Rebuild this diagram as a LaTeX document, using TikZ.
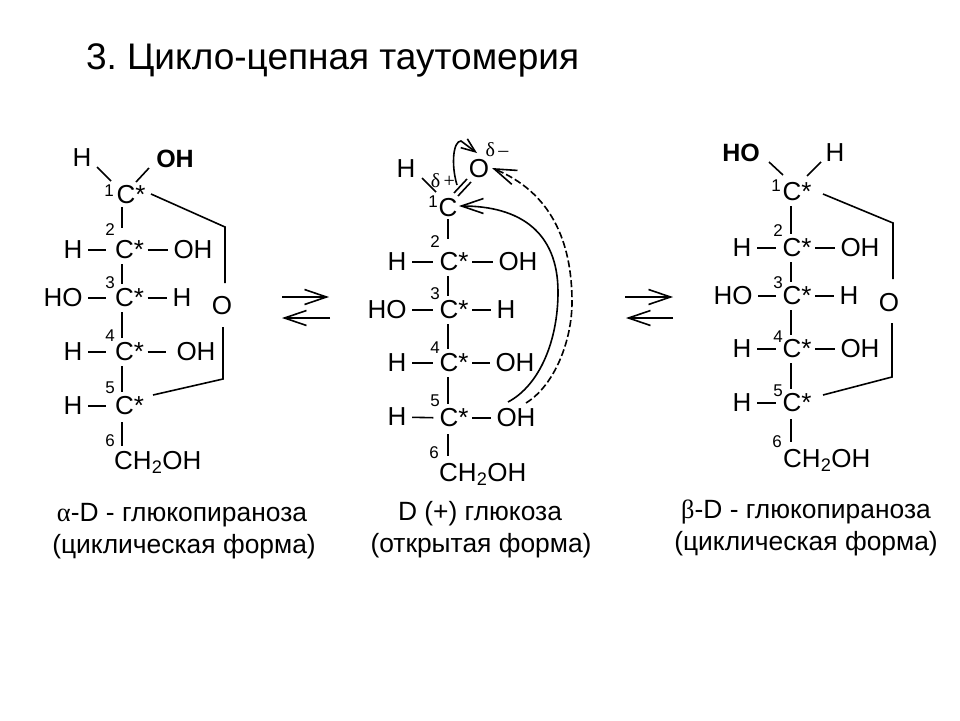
\documentclass[tikz,border=0pt]{standalone}
\usepackage{fontspec}
\setmainfont{Liberation Sans}
\newfontfamily\greekfont{Liberation Serif}
\usetikzlibrary{arrows.meta}
\frenchspacing
\newcommand{\cstar}[1][2pt]{\kern#1 C\rlap{*}}
\tikzset{
	atom/.style={font=\fontsize{26}{26}\selectfont, inner sep=0pt},
	boldatom/.style={atom, font=\fontsize{25}{25}\selectfont\bfseries},
	num/.style={font=\fontsize{17}{17}\selectfont, inner sep=0pt},
	delta/.style={font=\fontsize{20}{20}\selectfont\greekfont, inner sep=0pt},
	caption/.style={font=\fontsize{26.4}{26.4}\selectfont, inner sep=0pt},
	bond/.style={line width=1.6pt},
	lbond/.style={bond, shorten <=5.5pt, shorten >=4pt},
	rbond/.style={bond, shorten <=13.5pt, shorten >=5pt},
	vbond/.style={bond, shorten <=5pt, shorten >=5pt},
	barb/.style={line width=1.6pt, -{Straight Barb[length=22pt, width=15pt, line width=1.6pt]}},
	minibarb/.style={line width=1.6pt, -{Straight Barb[length=14pt, width=11pt, line width=1.6pt]}}
}
\begin{document}
\begin{tikzpicture}[x=1pt, y=-1pt]
	\useasboundingbox (0, 0) rectangle (960, 720);
	\node [font=\fontsize{37}{37}\selectfont, inner sep=0pt] (title) at (332.5, 60) {3. Цикло-цепная таутомерия};
	% alpha form
	\node [atom] (aH1) at (82, 158) {H};
	\node [boldatom] (aOH1) at (175, 159) {OH};
	\node [atom] (aC1) at (122, 195) {\cstar[8pt]};
	\node [atom] (aC2) at (122, 250) {\cstar[5pt]};
	\node [atom] (aC3) at (122, 298) {\cstar[5pt]};
	\node [atom] (aC4) at (122, 352) {\cstar[5pt]};
	\node [atom] (aC5) at (122, 406) {\cstar[5pt]};
	\node [atom, anchor=west] (aC6) at (114, 462) {CH\textsubscript{2}OH};
	\node [atom] (aH2) at (73, 250) {H};
	\node [atom] (aOH2) at (193, 250) {OH};
	\node [atom] (aHO3) at (63, 298) {HO};
	\node [atom] (aH3) at (182, 298) {H};
	\node [atom] (aH4) at (73, 352) {H};
	\node [atom] (aOH4) at (196, 352) {OH};
	\node [atom] (aH5) at (73, 406) {H};
	\node [atom] (aO) at (222, 306) {O};
	\node [num] (an1) at (109, 191) {1};
	\node [num] (an2) at (110, 230) {2};
	\node [num] (an3) at (110, 283) {3};
	\node [num] (an4) at (110, 336) {4};
	\node [num] (an5) at (110, 388) {5};
	\node [num] (an6) at (110, 441) {6};
	\coordinate (aR1) at (225, 227);
	\coordinate (aR2) at (223, 379);
	\draw [bond] ([shift={(15, 9)}]aH1.center) -- ([shift={(-11, -14)}]aC1.center);
	\draw [bond] ([shift={(14, -13)}]aC1.center) -- ([shift={(-26, 9)}]aOH1.center);
	\draw [bond, shorten <=2.5pt, shorten >=12.5pt] (aC1) -- (aC2);
	\draw [vbond] (aC2) -- (aC3);
	\draw [vbond] (aC3) -- (aC4);
	\draw [vbond] (aC4) -- (aC5);
	\draw [bond, shorten <=7pt, shorten >=5pt] (aC5) -- (aC5 |- aC6.north);
	\draw [lbond] (aH2) -- (aC2);
	\draw [rbond] (aC2) -- (aOH2);
	\draw [lbond] (aHO3) -- (aC3);
	\draw [rbond] (aC3) -- (aH3);
	\draw [lbond] (aH4) -- (aC4);
	\draw [rbond, shorten >=10pt] (aC4) -- (aOH4);
	\draw [lbond] (aH5) -- (aC5);
	\draw [bond] ([shift={(29, -1)}]aC1.center) -- (aR1) -- ([shift={(3, -23)}]aO.center);
	\draw [bond] ([shift={(1, 21)}]aO.center) -- (aR2) -- ([shift={(31, -11)}]aC5.center);
	% open form
	\node [atom] (bH1) at (406, 169) {H};
	\node [atom] (bO) at (479, 169) {O};
	\node [atom] (bC1) at (448, 208) {C};
	\node [atom] (bC2) at (448, 262) {\cstar[2pt]};
	\node [atom] (bC3) at (448, 310) {\cstar[2pt]};
	\node [atom] (bC4) at (448, 363) {\cstar[2pt]};
	\node [atom] (bC5) at (448, 418) {\cstar[2pt]};
	\node [atom, anchor=west] (bC6) at (439, 474) {CH\textsubscript{2}OH};
	\node [atom] (bH2) at (397, 262) {H};
	\node [atom] (bOH2) at (518, 262) {OH};
	\node [atom] (bHO3) at (387, 310) {HO};
	\node [atom] (bH3) at (506, 310) {H};
	\node [atom] (bH4) at (397, 363) {H};
	\node [atom] (bOH4) at (515, 363) {OH};
	\node [atom] (bH5) at (397, 417) {H};
	\node [atom] (bOH5) at (516, 418) {OH};
	\node [num] (bn1) at (433, 202) {1};
	\node [num] (bn2) at (435, 242) {2};
	\node [num] (bn3) at (435, 294) {3};
	\node [num] (bn4) at (435, 348) {4};
	\node [num] (bn5) at (435, 401) {5};
	\node [num] (bn6) at (434, 453) {6};
	\node [delta] (bdp) at (443, 181) {δ\,+};
	\node [delta] (bdm) at (497, 150) {δ\,–};
	\coordinate (bArc) at (461, 141);
	\draw [bond] ([shift={(16, 9)}]bH1.center) -- ([shift={(-12, -16)}]bC1.center);
	\draw [bond] ([shift={(6, -15)}]bC1.center) -- ([shift={(-12, 10)}]bO.center);
	\draw [bond] ([shift={(10, -12)}]bC1.center) -- ([shift={(-8, 13)}]bO.center);
	\draw [bond, shorten <=2pt, shorten >=14pt] (bC1) -- (bC2);
	\draw [vbond] (bC2) -- (bC3);
	\draw [vbond] (bC3) -- (bC4);
	\draw [vbond] (bC4) -- (bC5);
	\draw [bond, shorten <=7pt, shorten >=7pt] (bC5) -- (bC5 |- bC6.north);
	\draw [lbond] (bH2) -- (bC2);
	\draw [rbond] (bC2) -- (bOH2);
	\draw [lbond] (bHO3) -- (bC3);
	\draw [rbond] (bC3) -- (bH3);
	\draw [lbond] (bH4) -- (bC4);
	\draw [rbond] (bC4) -- (bOH4);
	\draw [lbond] (bH5) -- (bC5);
	\draw [rbond] (bC5) -- (bOH5);
	\draw [minibarb] ([shift={(-22, 16)}]bO.center) .. controls (451, 165) and (453, 141) .. (bArc) -- ([shift={(-2, -16)}]bO.center);
	\draw [barb] ([shift={(-8, -16)}]bOH5.center) .. controls (540, 385) and (558, 340) .. (558, 292) .. controls (558, 232) and (520, 206) .. ([shift={(11, -2)}]bC1.center);
	\draw [barb, dash pattern=on 7pt off 3pt] ([shift={(10, -15)}]bOH5.center) .. controls (555, 385) and (572, 340) .. (572, 302) .. controls (572, 240) and (550, 192) .. ([shift={(13, -1)}]bO.center);
	% beta form
	\node [boldatom] (cHO1) at (741, 153) {HO};
	\node [atom] (cH1) at (835, 153) {H};
	\node [atom] (cC1) at (791, 192) {\cstar[2pt]};
	\node [atom] (cC2) at (791, 248) {\cstar[2pt]};
	\node [atom] (cC3) at (791, 296) {\cstar[2pt]};
	\node [atom] (cC4) at (791, 349) {\cstar[2pt]};
	\node [atom] (cC5) at (791, 403) {\cstar[2pt]};
	\node [atom, anchor=west] (cC6) at (783, 460) {CH\textsubscript{2}OH};
	\node [atom] (cH2) at (742, 248) {H};
	\node [atom] (cOH2) at (860, 248) {OH};
	\node [atom] (cHO3) at (733, 296) {HO};
	\node [atom] (cH3) at (849, 296) {H};
	\node [atom] (cH4) at (742, 349) {H};
	\node [atom] (cOH4) at (860, 349) {OH};
	\node [atom] (cH5) at (742, 403) {H};
	\node [atom] (cO) at (889, 303) {O};
	\node [num] (cn1) at (776, 186) {1};
	\node [num] (cn2) at (778, 231) {2};
	\node [num] (cn3) at (778, 283) {3};
	\node [num] (cn4) at (778, 337) {4};
	\node [num] (cn5) at (778, 391) {5};
	\node [num] (cn6) at (777, 442) {6};
	\coordinate (cR1) at (893, 223);
	\coordinate (cR2) at (892, 377);
	\draw [bond] ([shift={(28, 9)}]cHO1.center) -- ([shift={(-8, -17)}]cC1.center);
	\draw [bond] ([shift={(-14, 9)}]cH1.center) -- ([shift={(16, -16)}]cC1.center);
	\draw [vbond] (cC1) -- (cC2);
	\draw [vbond] (cC2) -- (cC3);
	\draw [vbond] (cC3) -- (cC4);
	\draw [vbond] (cC4) -- (cC5);
	\draw [bond, shorten <=7pt, shorten >=7pt] (cC5) -- (cC5 |- cC6.north);
	\draw [lbond] (cH2) -- (cC2);
	\draw [rbond] (cC2) -- (cOH2);
	\draw [lbond] (cHO3) -- (cC3);
	\draw [rbond] (cC3) -- (cH3);
	\draw [lbond] (cH4) -- (cC4);
	\draw [rbond] (cC4) -- (cOH4);
	\draw [lbond] (cH5) -- (cC5);
	\draw [bond] ([shift={(32, 2)}]cC1.center) -- (cR1) -- ([shift={(4, -24)}]cO.center);
	\draw [bond] ([shift={(3, 20)}]cO.center) -- (cR2) -- ([shift={(32, -8)}]cC5.center);
	% equilibrium arrows
	\coordinate (e1a) at (282, 297);
	\coordinate (e1b) at (329, 297);
	\coordinate (e2a) at (330, 318);
	\coordinate (e2b) at (282, 318);
	\coordinate (e3a) at (625, 297);
	\coordinate (e3b) at (673, 297);
	\coordinate (e4a) at (673, 318);
	\coordinate (e4b) at (626, 318);
	\draw [barb] (e1a) -- (e1b);
	\draw [barb] (e2a) -- (e2b);
	\draw [barb] (e3a) -- (e3b);
	\draw [barb] (e4a) -- (e4b);
	% captions
	\node [caption] (acap1) at (182, 515) {{\greekfont α}-D - глюкопираноза};
	\node [caption] (acap2) at (184, 547) {(циклическая форма)};
	\node [caption] (bcap1) at (480, 514) {D (+) глюкоза};
	\node [caption] (bcap2) at (481, 546) {(открытая форма)};
	\node [caption] (ccap1) at (806, 512) {{\greekfont β}-D - глюкопираноза};
	\node [caption] (ccap2) at (806, 544) {(циклическая форма)};
\end{tikzpicture}
\end{document}
